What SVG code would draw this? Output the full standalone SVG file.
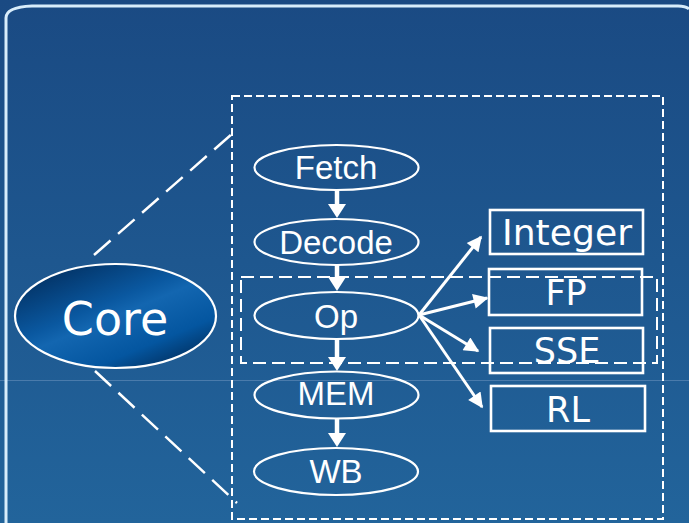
<svg xmlns="http://www.w3.org/2000/svg" width="689" height="523" viewBox="0 0 689 523">
  <defs>
    <linearGradient id="bg" x1="0" y1="0" x2="0" y2="1">
      <stop offset="0" stop-color="#1a4a83"/>
      <stop offset="1" stop-color="#22649b"/>
    </linearGradient>
    <linearGradient id="coreFill" x1="0.1" y1="0" x2="0.9" y2="1">
      <stop offset="0" stop-color="#012a58"/>
      <stop offset="0.4" stop-color="#0a58a0"/>
      <stop offset="0.5" stop-color="#1366b0"/>
      <stop offset="0.75" stop-color="#0456a0"/>
      <stop offset="1" stop-color="#01264f"/>
    </linearGradient>
    <marker id="head" viewBox="0 0 10 10" refX="9" refY="5" markerWidth="6" markerHeight="5" markerUnits="strokeWidth" orient="auto">
      <path d="M0,0 L10,5 L0,10 Z" fill="#ffffff"/>
    </marker>
  </defs>
  <style>
    .stage { fill: none; stroke: #ffffff; stroke-width: 2.2; }
    .unit { fill: none; stroke: #ffffff; stroke-width: 2.6; }
    .stage-label { font-family: "Liberation Sans", Arial, sans-serif; font-size: 33px; fill: #ffffff; text-anchor: middle; }
    .unit-label { font-family: "DejaVu Sans", Verdana, sans-serif; font-size: 35px; fill: #ffffff; text-anchor: middle; }
    .flow { stroke: #ffffff; stroke-width: 3; fill: none; marker-end: url(#head); }
    .down { stroke: #ffffff; stroke-width: 4.5; fill: none; }
    .zoom { stroke: #ffffff; stroke-width: 2.5; fill: none; stroke-dasharray: 22 10; }
  </style>

  <!-- slide background and frame -->
  <rect x="0" y="0" width="689" height="523" fill="url(#bg)"/>
  <line x1="0" y1="380.5" x2="689" y2="380.5" stroke="#5d88b6" stroke-width="1" opacity="0.7"/>
  <path d="M6,523 L6,18 Q6,7 32,6 L678,6 Q686,6 689,9" fill="none" stroke="#d8edfb" stroke-width="3"/>

  <!-- pipeline region and op region -->
  <rect x="232" y="96" width="431" height="423" fill="none" stroke="#ffffff" stroke-width="2" stroke-dasharray="8 4"/>
  <rect x="241" y="277" width="416" height="86" fill="none" stroke="#ffffff" stroke-width="2" stroke-dasharray="13 6"/>

  <g id="connectors">
    <!-- zoom lines from the core into the pipeline -->
    <line class="zoom" x1="94" y1="255" x2="233" y2="133"/>
    <line class="zoom" x1="95" y1="371" x2="237" y2="503"/>
    <!-- pipeline stage arrows -->
    <g>
      <line class="down" x1="337" y1="190" x2="337" y2="206"/>
      <path d="M328,204 L346,204 L337,218 Z" fill="#ffffff"/>
      <line class="down" x1="337" y1="265" x2="337" y2="279"/>
      <path d="M328,277 L346,277 L337,291 Z" fill="#ffffff"/>
      <line class="down" x1="337" y1="339" x2="337" y2="359"/>
      <path d="M328,357 L346,357 L337,371 Z" fill="#ffffff"/>
      <line class="down" x1="337" y1="419" x2="337" y2="435"/>
      <path d="M328,433 L346,433 L337,447 Z" fill="#ffffff"/>
    </g>
    <!-- op dispatch arrows -->
    <line class="flow" x1="419" y1="315" x2="481" y2="237"/>
    <line class="flow" x1="419" y1="315" x2="487" y2="298"/>
    <line class="flow" x1="419" y1="315" x2="478" y2="351"/>
    <line class="flow" x1="419" y1="315" x2="482" y2="407"/>
  </g>

  <g id="core">
    <ellipse cx="115.5" cy="316" rx="100.5" ry="52" fill="url(#coreFill)" stroke="#ffffff" stroke-width="2.2"/>
    <text x="115" y="335" font-family="'DejaVu Sans', Verdana, sans-serif" font-size="46" fill="#ffffff" text-anchor="middle">Core</text>
  </g>

  <g id="fetch">
    <ellipse class="stage" cx="336.5" cy="167.5" rx="82" ry="22.5"/>
    <text class="stage-label" x="336" y="179">Fetch</text>
  </g>
  <g id="decode">
    <ellipse class="stage" cx="336.5" cy="242" rx="82" ry="23"/>
    <text class="stage-label" x="336" y="254">Decode</text>
  </g>
  <g id="op">
    <ellipse class="stage" cx="336.5" cy="315.5" rx="82" ry="23.5"/>
    <text class="stage-label" x="336" y="328">Op</text>
  </g>
  <g id="mem">
    <ellipse class="stage" cx="336.5" cy="395" rx="82" ry="23.5"/>
    <text class="stage-label" x="336" y="405">MEM</text>
  </g>
  <g id="wb">
    <ellipse class="stage" cx="336" cy="471.5" rx="82" ry="23.5"/>
    <text class="stage-label" x="336" y="483">WB</text>
  </g>

  <g id="integer">
    <rect class="unit" x="490" y="210" width="153" height="44"/>
    <text class="unit-label" x="567" y="245" textLength="130" lengthAdjust="spacingAndGlyphs">Integer</text>
  </g>
  <g id="fp">
    <rect class="unit" x="489" y="269" width="153" height="46"/>
    <text class="unit-label" x="566" y="305">FP</text>
  </g>
  <g id="sse">
    <rect class="unit" x="490" y="328" width="153" height="45"/>
    <text class="unit-label" x="567" y="363">SSE</text>
  </g>
  <g id="rl">
    <rect class="unit" x="491" y="386" width="154" height="45"/>
    <text class="unit-label" x="568" y="422">RL</text>
  </g>
</svg>
